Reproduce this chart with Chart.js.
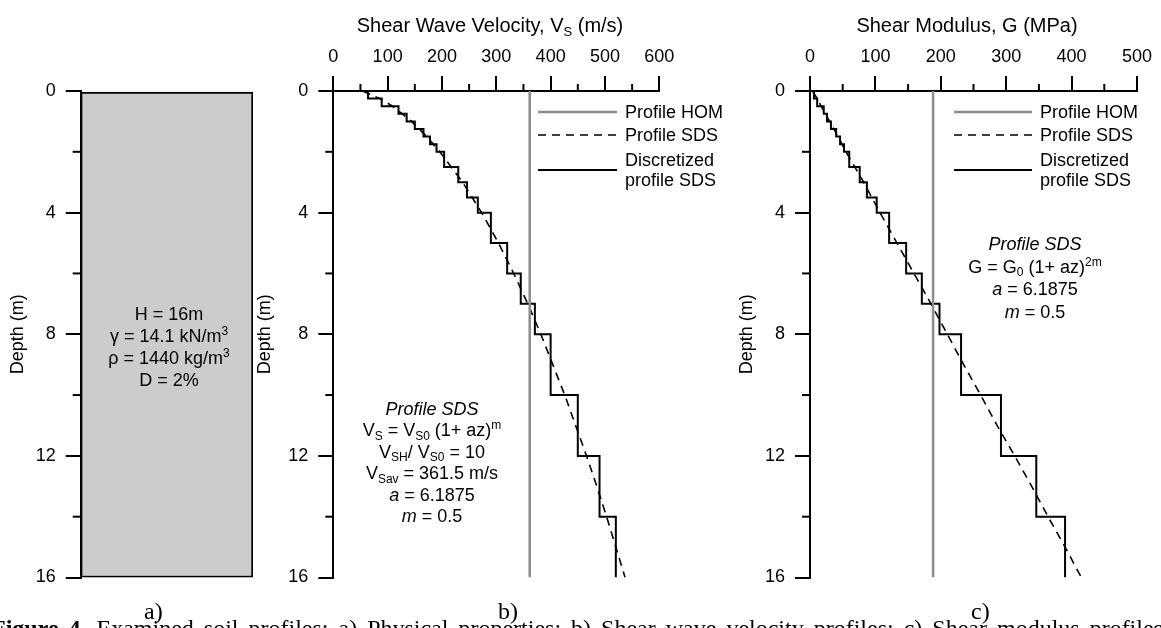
<!DOCTYPE html>
<html>
<head>
<meta charset="utf-8">
<script src="https://cdn.jsdelivr.net/npm/chart.js@4.4.1/dist/chart.umd.min.js"></script>
<style>
  html, body { margin: 0; padding: 0; background: #fff; }
  #wrap { position: relative; width: 1161px; height: 628px; overflow: hidden; }
  .panel { position: absolute; left: 0; top: 0; width: 1161px; height: 628px; }
  .cap { position: absolute; font-family: "Liberation Serif", "Times New Roman", serif; font-size: 24px; line-height: 24px; color: #000; }
  #figcap { position: absolute; left: -9px; top: 616px; font-family: "Liberation Serif", serif; font-size: 24px; line-height: 24px; word-spacing: 4px; white-space: nowrap; color: #000; }
</style>
</head>
<body>
<div id="wrap">
  <div class="panel"><canvas id="chart-a"></canvas></div>
  <div class="panel"><canvas id="chart-b"></canvas></div>
  <div class="panel"><canvas id="chart-c"></canvas></div>
  <div class="cap" style="left:144px;top:599px">a)</div>
  <div class="cap" style="left:498px;top:599px">b)</div>
  <div class="cap" style="left:971px;top:599px">c)</div>
  <div id="figcap"><b>Figure 4.</b> Examined soil profiles: a) Physical properties; b) Shear wave velocity profiles; c) Shear modulus profiles</div>
</div>
<script>
/* ─── Data ───────────────────────────────────────────────────────────────── */
const DEPTH_RANGE  = [0, 16];
const LAYER_BOUNDS = [0, 0.25, 0.5, 0.75, 1, 1.25, 1.5, 1.75, 2, 2.5, 3, 3.5, 4, 5, 6, 7, 8, 10, 12, 14, 16];
const VS_LAYERS    = [64, 89, 120, 135, 150, 166, 178, 190, 204, 230, 246, 266, 290, 320, 345, 371, 400, 450, 490, 520];
const G_LAYERS     = [6, 11, 21, 26, 32, 40, 46, 52, 60, 76, 87, 102, 121, 147, 171, 198, 231, 292, 346, 390];
const SDS_DEPTHS   = [0, 0.25, 0.5, 1, 1.5, 2, 3, 4, 5, 6, 7, 8, 9, 10, 11, 12, 13, 14, 15, 16];
const VS_SDS       = [54, 86, 109, 144, 172, 196, 238, 273, 304, 332, 358, 382, 404, 426, 446, 466, 485, 503, 520, 537];
const G_SDS        = [4, 11, 17, 30, 43, 55, 82, 107, 133, 159, 185, 210, 235, 261, 286, 313, 339, 364, 390, 415];
const VS_HOM       = 361.5;
const G_HOM        = 188.2;
const SOIL_COLUMN  = [[0, 16]];

/* rich text lines: [text, style] with style '', 'i', 'sub', 'sup' */
const NOTE_A = [
  [['H = 16m']],
  [['γ = 14.1 kN/m'], ['3', 'sup']],
  [['ρ = 1440 kg/m'], ['3', 'sup']],
  [['D = 2%']]
];
const NOTE_B = [
  [['Profile SDS', 'i']],
  [['V'], ['S', 'sub'], [' = V'], ['S0', 'sub'], [' (1+ az)'], ['m', 'sup']],
  [['V'], ['SH', 'sub'], ['/ V'], ['S0', 'sub'], [' = 10']],
  [['V'], ['Sav', 'sub'], [' = 361.5 m/s']],
  [['a', 'i'], [' = 6.1875']],
  [['m', 'i'], [' = 0.5']]
];
const NOTE_C = [
  [['Profile SDS', 'i']],
  [['G = G'], ['0', 'sub'], [' (1+ az)'], ['2m', 'sup']],
  [['a', 'i'], [' = 6.1875']],
  [['m', 'i'], [' = 0.5']]
];
const TITLE_B = [[['Shear Wave Velocity, V'], ['S', 'sub'], [' (m/s)']]];
const TITLE_C = [[['Shear Modulus, G (MPa)']]];

const FONT = "'Liberation Sans', Arial, sans-serif";
Chart.defaults.font.family = FONT;
Chart.defaults.color = '#000';

/* ─── Helpers ────────────────────────────────────────────────────────────── */
const stepPoints = vals => vals.flatMap((v, i) => [
  { x: v, y: LAYER_BOUNDS[i] },
  { x: v, y: LAYER_BOUNDS[i + 1] }
]);
const curvePoints = vals => SDS_DEPTHS.map((z, i) => ({ x: vals[i], y: z }));
const homPoints = v => DEPTH_RANGE.map(z => ({ x: v, y: z }));

function drawRich(ctx, parts, cx, y, size) {
  const small = Math.round(size * 0.65);
  const fontOf = s => `${s === 'i' ? 'italic ' : ''}${s === 'sub' || s === 'sup' ? small : size}px ${FONT}`;
  let w = 0;
  parts.forEach(([t, s]) => { ctx.font = fontOf(s); w += ctx.measureText(t).width; });
  let x = cx - w / 2;
  ctx.textAlign = 'left';
  ctx.textBaseline = 'alphabetic';
  parts.forEach(([t, s]) => {
    ctx.font = fontOf(s);
    const dy = s === 'sub' ? size * 0.2 : s === 'sup' ? -size * 0.38 : 0;
    ctx.fillText(t, x, y + dy);
    x += ctx.measureText(t).width;
  });
}

/* ─── Plugins ────────────────────────────────────────────────────────────── */
const minorTicks = {
  id: 'minorTicks',
  afterDraw(chart) {
    const { ctx } = chart;
    ctx.save();
    ctx.strokeStyle = '#000';
    ctx.lineWidth = 2;
    Object.values(chart.scales).forEach(s => {
      if (!s.options.display) return;
      const t = s.ticks.map(k => k.value);
      for (let i = 0; i < t.length - 1; i++) {
        const p = s.getPixelForValue((t[i] + t[i + 1]) / 2);
        ctx.beginPath();
        if (s.isHorizontal()) { ctx.moveTo(p, s.bottom); ctx.lineTo(p, s.bottom - 7); }
        else { ctx.moveTo(s.right, p); ctx.lineTo(s.right - 8, p); }
        ctx.stroke();
      }
    });
    ctx.restore();
  }
};

const notes = {
  id: 'notes',
  afterDraw(chart, args, opts) {
    const { ctx } = chart;
    ctx.save();
    ctx.fillStyle = '#000';
    (opts.blocks || []).forEach(b => {
      b.lines.forEach((line, i) => drawRich(ctx, line, b.x, b.y + i * b.step, b.size));
    });
    ctx.restore();
  }
};

const lineLegend = {
  id: 'lineLegend',
  afterDraw(chart, args, opts) {
    if (!opts.x) return;
    const { ctx } = chart;
    chart.data.datasets.forEach((ds, i) => {
      const row = opts.rows[i];
      ctx.save();
      ctx.strokeStyle = ds.borderColor;
      ctx.lineWidth = ds.borderWidth;
      ctx.setLineDash(ds.borderDash || []);
      ctx.beginPath();
      ctx.moveTo(opts.x, row);
      ctx.lineTo(opts.x + opts.len, row);
      ctx.stroke();
      ctx.setLineDash([]);
      ctx.fillStyle = '#000';
      ctx.font = `18px ${FONT}`;
      ctx.textBaseline = 'middle';
      ctx.textAlign = 'left';
      const lines = ds.label.split('\n');
      lines.forEach((t, k) => ctx.fillText(t, opts.x + opts.len + 8, row + 1 + (k - (lines.length - 1) / 2) * 19.5));
      ctx.restore();
    });
  }
};

/* ─── Scales ─────────────────────────────────────────────────────────────── */
function depthAxis(width) {
  return {
    type: 'linear', reverse: true, min: DEPTH_RANGE[0], max: DEPTH_RANGE[1],
    ticks: { stepSize: 4, font: { size: 18 }, padding: 10, color: '#000' },
    grid: { drawOnChartArea: false, drawTicks: true, tickLength: 15, tickColor: '#000', tickWidth: 2, lineWidth: 2 },
    border: { display: true, color: '#000', width: 2 },
    title: { display: true, text: 'Depth (m)', font: { size: 18 }, color: '#000', padding: { top: 4, bottom: 4 } },
    afterFit: s => { s.width = width; }
  };
}

function valueAxis(max) {
  return {
    type: 'linear', position: 'top', min: 0, max,
    ticks: { stepSize: 100, font: { size: 18 }, padding: 8, maxRotation: 0, color: '#000' },
    grid: { drawOnChartArea: false, drawTicks: true, tickLength: 15, tickColor: '#000', tickWidth: 2, lineWidth: 2 },
    border: { display: true, color: '#000', width: 2 },
    afterFit: s => { s.height = 91; }
  };
}

function profileDatasets(hom, sds, layers) {
  return [
    { label: 'Profile HOM', data: homPoints(hom), borderColor: '#8c8c8c', borderWidth: 2.5, pointRadius: 0 },
    { label: 'Profile SDS', data: curvePoints(sds), borderColor: '#000', borderWidth: 1.6, borderDash: [8, 6], pointRadius: 0 },
    { label: 'Discretized\nprofile SDS', data: stepPoints(layers), borderColor: '#000', borderWidth: 2, pointRadius: 0 }
  ];
}

/* ─── Init ───────────────────────────────────────────────────────────────── */
function init() {
  /* ── a) soil column ── */
  new Chart(document.getElementById('chart-a'), {
    type: 'bar',
    data: {
      labels: ['soil'],
      datasets: [{
        data: SOIL_COLUMN,
        backgroundColor: '#cccccc',
        borderColor: '#000',
        borderWidth: 2,
        borderSkipped: false,
        barPercentage: 1,
        categoryPercentage: 1
      }]
    },
    options: {
      responsive: true, maintainAspectRatio: false, animation: false, devicePixelRatio: 1,
      layout: { padding: { left: 2.9, top: 91, right: 908, bottom: 50.5 } },
      plugins: {
        legend: { display: false }, tooltip: { enabled: false },
        notes: { blocks: [{ lines: NOTE_A, x: 169, y: 320, step: 22, size: 18 }] }
      },
      scales: { x: { display: false }, y: depthAxis(77.8) }
    },
    plugins: [minorTicks, notes]
  });

  /* ── b) shear wave velocity ── */
  new Chart(document.getElementById('chart-b'), {
    type: 'line',
    data: { datasets: profileDatasets(VS_HOM, VS_SDS, VS_LAYERS) },
    options: {
      responsive: true, maintainAspectRatio: false, animation: false, devicePixelRatio: 1,
      layout: { padding: { left: 250.5, top: 0, right: 501.7, bottom: 50.5 } },
      plugins: {
        legend: { display: false }, tooltip: { enabled: false },
        lineLegend: { x: 538, len: 79, rows: [112, 135, 170] },
        notes: { blocks: [
          { lines: TITLE_B, x: 490, y: 32, step: 0, size: 20 },
          { lines: NOTE_B, x: 432, y: 414.5, step: 21.5, size: 18 }
        ] }
      },
      scales: { x: valueAxis(600), y: depthAxis(82.8) }
    },
    plugins: [minorTicks, notes, lineLegend]
  });

  /* ── c) shear modulus ── */
  new Chart(document.getElementById('chart-c'), {
    type: 'line',
    data: { datasets: profileDatasets(G_HOM, G_SDS, G_LAYERS) },
    options: {
      responsive: true, maintainAspectRatio: false, animation: false, devicePixelRatio: 1,
      layout: { padding: { left: 732.2, top: 0, right: 24, bottom: 50.5 } },
      plugins: {
        legend: { display: false }, tooltip: { enabled: false },
        lineLegend: { x: 954, len: 78, rows: [112, 135, 170] },
        notes: { blocks: [
          { lines: TITLE_C, x: 967, y: 32, step: 0, size: 20 },
          { lines: NOTE_C, x: 1035, y: 250, step: 22.5, size: 18 }
        ] }
      },
      scales: { x: valueAxis(500), y: depthAxis(77.8) }
    },
    plugins: [minorTicks, notes, lineLegend]
  });
}

document.addEventListener('DOMContentLoaded', init);
</script>
</body>
</html>
